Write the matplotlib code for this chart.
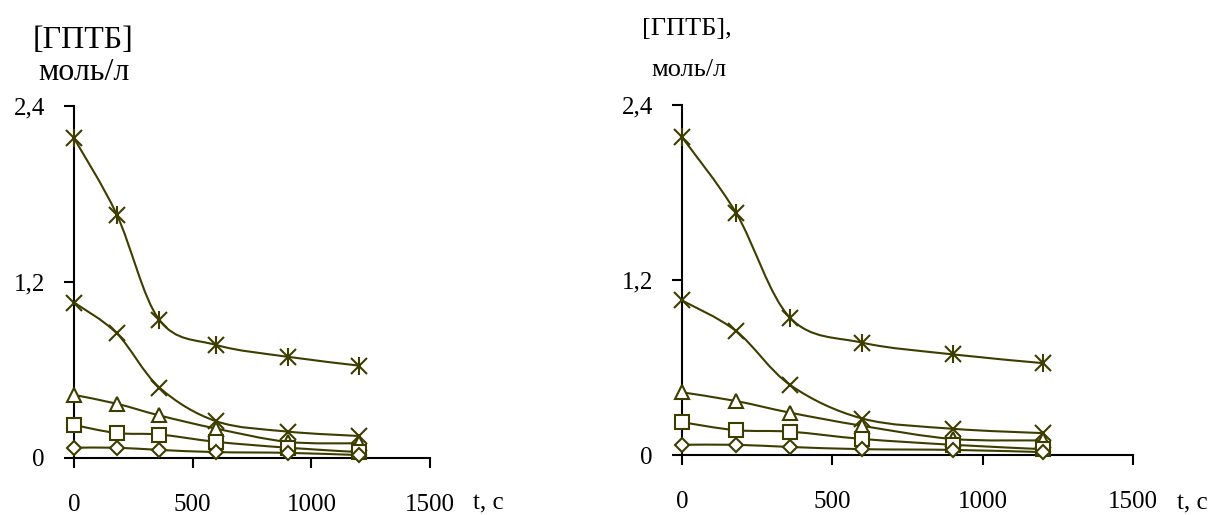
import numpy as np
import matplotlib.pyplot as plt
from matplotlib.path import Path
from matplotlib.patches import PathPatch

# time points, s
t = [0, 180, 360, 600, 900, 1200]

# [ГПТБ], моль/л for the five series
star_vals = [2.18, 1.66, 0.94, 0.77, 0.69, 0.63]
cross_vals = [1.06, 0.85, 0.48, 0.25, 0.18, 0.15]
tri_vals = [0.43, 0.37, 0.29, 0.20, 0.11, 0.10]
sq_vals = [0.225, 0.17, 0.16, 0.11, 0.07, 0.04]
dia_vals = [0.07, 0.07, 0.055, 0.04, 0.035, 0.02]

y_ticks = [0, 1.2, 2.4]
y_ticklabels = ['0', '1,2', '2,4']
x_ticks = [0, 500, 1000, 1500]

col = '#3d3d00'
plt.rcParams['font.family'] = ['Liberation Serif', 'DejaVu Serif']


def smooth_line(ax, x, y):
    # excel-like smoothed line: catmull-rom segments as cubic bezier
    x = np.asarray(x, float)
    y = np.asarray(y, float)
    p = np.column_stack([x, y])
    n = len(p)
    verts = [p[0]]
    codes = [Path.MOVETO]
    for i in range(n - 1):
        p0 = p[i - 1] if i > 0 else p[i]
        p3 = p[i + 2] if i + 2 < n else p[i + 1]
        c1 = p[i] + (p[i + 1] - p0) / 6
        c2 = p[i + 1] - (p3 - p[i]) / 6
        verts += [c1, c2, p[i + 1]]
        codes += [Path.CURVE4] * 3
    ax.add_patch(PathPatch(Path(verts, codes), fc='none', ec=col, lw=1.5, zorder=2))


def draw_panel(ax):
    for vals in [star_vals, cross_vals, tri_vals, sq_vals, dia_vals]:
        smooth_line(ax, t, vals)
    ax.plot(t, star_vals, ls='none', marker='x', ms=11, mew=1.5, color=col, zorder=3)
    ax.plot(t, star_vals, ls='none', marker='|', ms=13, mew=1.5, color=col, zorder=3)
    ax.plot(t, cross_vals, ls='none', marker='x', ms=11, mew=1.5, color=col, zorder=3)
    ax.plot(t, tri_vals, ls='none', marker='^', ms=10, mew=1.5, mfc='white', mec=col, zorder=3)
    ax.plot(t, sq_vals, ls='none', marker='s', ms=10, mew=1.5, mfc='white', mec=col, zorder=3)
    ax.plot(t, dia_vals, ls='none', marker='D', ms=7, mew=1.5, mfc='white', mec=col, zorder=3)

    ax.set_xlim(0, 1500)
    ax.set_ylim(0, 2.4)
    ax.set_xticks(x_ticks)
    ax.set_yticks(y_ticks)
    ax.set_yticklabels(y_ticklabels)
    for s in ['top', 'right']:
        ax.spines[s].set_visible(False)
    for s in ['left', 'bottom']:
        ax.spines[s].set_linewidth(1.5)
        ax.spines[s].set_clip_on(False)
    ax.tick_params(axis='both', direction='out', length=7, width=1.5, labelsize=18)
    ax.tick_params(axis='x', pad=19)
    ax.tick_params(axis='y', pad=14)
    for line in ax.lines:
        line.set_clip_on(False)


fig = plt.figure(figsize=(12.12, 5.15), dpi=100)
ax1 = fig.add_axes([0.0611, 0.1107, 0.2937, 0.6835])
ax2 = fig.add_axes([0.5627, 0.1165, 0.3721, 0.6796])
draw_panel(ax1)
draw_panel(ax2)

fig.text(83 / 1212, 1 - 40 / 515, '[ГПТБ]', fontsize=23, ha='center', va='center')
fig.text(84 / 1212, 1 - 73 / 515, 'моль/л', fontsize=23, ha='center', va='center')
fig.text(687 / 1212, 1 - 29 / 515, '[ГПТБ],', fontsize=19, ha='center', va='center')
fig.text(689 / 1212, 1 - 70 / 515, 'моль/л', fontsize=19, ha='center', va='center')
fig.text(488 / 1212, 1 - 503 / 515, 't, с', fontsize=18, ha='center', va='center')
fig.text(1192 / 1212, 1 - 503 / 515, 't, с', fontsize=18, ha='center', va='center')

fig.savefig('out.png', dpi=100)
